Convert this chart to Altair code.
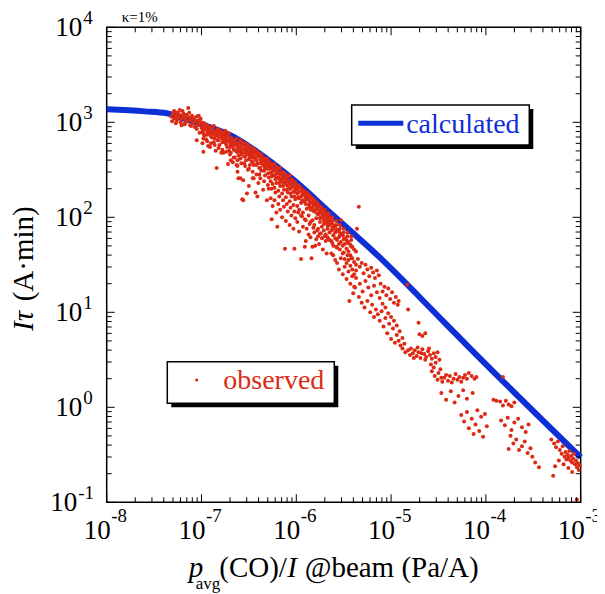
import altair as alt
import pandas as pd

FONT = "Liberation Serif"
W, H = 474, 475
RED = "#dc2a14"
BLUE = "#0d2fd6"

# axis decades (exponents) and minor multipliers
X_EXP = [-8, -7, -6, -5, -4, -3]
Y_EXP = [-1, 0, 1, 2, 3, 4]
Y_EXP_POS = [0, 1, 2, 3, 4]
Y_EXP_NEG = [-1]
MINOR_MULT = [2, 3, 4, 5, 6, 7, 8, 9]

# calculated curve (log10 x, log10 y)
CURVE_LX = [-8.0, -7.6, -7.367, -7.226, -7.0, -6.7, -6.4, -6.0, -5.645, -5.117, -4.449, -4.097, -3.0]
CURVE_LY = [3.137, 3.115, 3.095, 3.053, 2.98, 2.866, 2.68, 2.37, 2.05, 1.575, 0.905, 0.55, -0.526]

# observed points as (log10 x, log10 y)
OBS_A = [(-7.32, 3.06), (-7.30, 3.09), (-7.29, 3.04), (-7.28, 3.11), (-7.27, 3.07), (-7.26, 3.02), (-7.25, 3.10),
         (-7.24, 3.05), (-7.23, 3.08), (-7.22, 3.00), (-7.21, 3.04), (-7.20, 3.12), (-7.19, 3.06), (-7.18, 2.98),
         (-7.17, 3.03), (-7.16, 3.08), (-7.15, 3.01), (-7.14, 3.15), (-7.13, 3.05), (-7.12, 2.97), (-7.11, 3.02),
         (-7.10, 3.07), (-7.09, 2.99), (-7.08, 3.04), (-7.07, 2.95), (-7.06, 3.01), (-7.05, 2.81), (-7.05, 3.06),
         (-7.04, 2.97), (-7.03, 3.02), (-7.02, 2.89), (-7.02, 2.99), (-7.01, 3.04), (-7.00, 2.94), (-7.00, 3.00),
         (-7.31, 3.01), (-7.29, 3.12), (-7.27, 2.99), (-7.25, 3.05), (-7.23, 3.13), (-7.21, 2.97), (-7.19, 3.09),
         (-7.17, 2.99), (-7.15, 3.06), (-7.13, 3.10), (-7.11, 2.96), (-7.09, 3.05), (-7.07, 3.00), (-7.05, 2.93),
         (-7.03, 3.07)]
OBS_B = [(-6.99, 2.97), (-6.99, 2.90), (-6.99, 2.78), (-6.97, 2.99), (-6.97, 2.86), (-6.97, 2.93),
         (-6.95, 2.94), (-6.95, 2.82), (-6.95, 2.97), (-6.93, 2.91), (-6.93, 2.96), (-6.93, 2.75),
         (-6.91, 2.74), (-6.91, 2.88), (-6.91, 2.95), (-6.89, 2.93), (-6.89, 2.84), (-6.89, 2.90),
         (-6.87, 2.96), (-6.87, 2.79), (-6.87, 2.88), (-6.85, 2.91), (-6.85, 2.86), (-6.85, 2.70),
         (-6.83, 2.93), (-6.83, 2.81), (-6.83, 2.89), (-6.81, 2.87), (-6.81, 2.92), (-6.81, 2.76),
         (-6.79, 2.90), (-6.79, 2.84), (-6.79, 2.68), (-6.77, 2.68), (-6.77, 2.88), (-6.77, 2.82),
         (-6.75, 2.91), (-6.75, 2.79), (-6.75, 2.86), (-6.73, 2.85), (-6.73, 2.74), (-6.73, 2.89),
         (-6.71, 2.88), (-6.71, 2.80), (-6.71, 2.70), (-6.98, 2.69), (-6.84, 2.52), (-6.72, 2.56)]
OBS_C = [(-6.69, 2.84), (-6.69, 2.77), (-6.69, 2.68), (-6.69, 2.60), (-6.67, 2.82), (-6.67, 2.74), (-6.67, 2.58),
         (-6.67, 2.79), (-6.65, 2.80), (-6.65, 2.71), (-6.65, 2.63), (-6.65, 2.76), (-6.63, 2.83), (-6.63, 2.69),
         (-6.63, 2.77), (-6.63, 2.55), (-6.61, 2.78), (-6.61, 2.72), (-6.61, 2.41), (-6.61, 2.65), (-6.59, 2.81),
         (-6.59, 2.74), (-6.59, 2.62), (-6.59, 2.69), (-6.57, 2.76), (-6.57, 2.68), (-6.57, 2.19), (-6.57, 2.79),
         (-6.55, 2.78), (-6.55, 2.64), (-6.55, 2.72), (-6.55, 2.57), (-6.53, 2.74), (-6.53, 2.69), (-6.53, 2.60),
         (-6.53, 2.77), (-6.51, 2.72), (-6.51, 2.50), (-6.51, 2.66), (-6.51, 2.76), (-6.49, 2.74), (-6.49, 2.63),
         (-6.49, 2.69), (-6.49, 2.55), (-6.47, 2.70), (-6.47, 2.59), (-6.47, 2.66), (-6.47, 2.73), (-6.45, 2.72),
         (-6.45, 2.41), (-6.45, 2.64), (-6.45, 2.55), (-6.43, 2.68), (-6.43, 2.26), (-6.43, 2.61), (-6.43, 2.70),
         (-6.41, 2.66), (-6.41, 2.57), (-6.41, 2.22), (-6.41, 2.69), (-6.39, 2.64), (-6.39, 2.52), (-6.39, 2.67),
         (-6.39, 2.45), (-6.37, 2.66), (-6.37, 2.58), (-6.37, 2.49), (-6.37, 2.62), (-6.35, 2.63), (-6.35, 2.29),
         (-6.35, 2.55), (-6.35, 2.60), (-6.33, 2.61), (-6.33, 2.51), (-6.33, 2.44), (-6.33, 2.57), (-6.31, 2.58),
         (-6.31, 2.18), (-6.31, 2.53), (-6.31, 2.62), (-6.59, 2.41), (-6.52, 2.25), (-6.56, 2.39), (-6.56, 2.18),
         (-6.62, 2.54), (-6.46, 2.41), (-6.62, 2.48), (-6.50, 2.33), (-6.40, 2.36)]
OBS_D = [(-6.29, 2.59), (-6.29, 2.51), (-6.29, 2.42), (-6.29, 2.30), (-6.29, 2.55),
         (-6.27, 2.57), (-6.27, 2.47), (-6.27, 2.38), (-6.27, 2.20), (-6.27, 2.53),
         (-6.25, 2.55), (-6.25, 2.49), (-6.25, 2.35), (-6.25, 2.12), (-6.25, 2.44),
         (-6.23, 2.56), (-6.23, 2.44), (-6.23, 2.31), (-6.23, 2.18), (-6.23, 2.50),
         (-6.21, 2.53), (-6.21, 2.46), (-6.21, 2.36), (-6.21, 2.05), (-6.21, 2.41),
         (-6.19, 2.51), (-6.19, 2.42), (-6.19, 2.28), (-6.19, 2.14), (-6.19, 2.47),
         (-6.17, 2.52), (-6.17, 2.39), (-6.17, 2.33), (-6.17, 2.08), (-6.17, 2.45),
         (-6.15, 2.48), (-6.15, 2.40), (-6.15, 2.25), (-6.15, 2.00), (-6.15, 2.44),
         (-6.13, 2.47), (-6.13, 2.36), (-6.13, 2.29), (-6.13, 2.11), (-6.13, 2.42),
         (-6.11, 2.45), (-6.11, 2.37), (-6.11, 2.21), (-6.11, 1.96), (-6.11, 2.40),
         (-6.09, 2.43), (-6.09, 2.33), (-6.09, 2.26), (-6.09, 2.06), (-6.09, 2.39),
         (-6.07, 2.44), (-6.07, 2.30), (-6.07, 2.17), (-6.07, 1.92), (-6.07, 2.36),
         (-6.05, 2.40), (-6.05, 2.32), (-6.05, 2.22), (-6.05, 2.02), (-6.05, 2.35),
         (-6.03, 2.38), (-6.03, 2.27), (-6.03, 2.13), (-6.03, 1.88), (-6.03, 2.33),
         (-6.01, 2.37), (-6.01, 2.29), (-6.01, 2.19), (-6.01, 1.99), (-6.01, 2.31),
         (-6.26, 1.98), (-6.20, 1.90), (-6.12, 1.67), (-6.02, 1.67)]
OBS_E = [(-5.99, 2.34), (-5.99, 2.25), (-5.99, 2.12), (-5.99, 1.95), (-5.99, 2.30),
         (-5.97, 2.33), (-5.97, 2.20), (-5.97, 2.08), (-5.97, 1.85), (-5.97, 2.27),
         (-5.95, 2.31), (-5.95, 2.22), (-5.95, 2.15), (-5.95, 1.56), (-5.95, 2.02),
         (-5.93, 2.29), (-5.93, 2.18), (-5.93, 2.05), (-5.93, 1.90), (-5.93, 2.25),
         (-5.91, 2.27), (-5.91, 2.16), (-5.91, 1.98), (-5.91, 1.69), (-5.91, 2.23),
         (-5.89, 2.26), (-5.89, 2.19), (-5.89, 2.09), (-5.89, 1.88), (-5.89, 2.22),
         (-5.87, 2.24), (-5.87, 2.13), (-5.87, 2.02), (-5.87, 1.82), (-5.87, 2.19),
         (-5.85, 2.22), (-5.85, 2.15), (-5.85, 1.95), (-5.85, 1.79), (-5.85, 2.08),
         (-5.83, 2.20), (-5.83, 2.10), (-5.83, 1.69), (-5.83, 1.97), (-5.83, 2.16),
         (-5.81, 2.18), (-5.81, 2.06), (-5.81, 1.92), (-5.81, 1.84), (-5.81, 2.14),
         (-5.79, 2.16), (-5.79, 2.09), (-5.79, 1.99), (-5.79, 1.77), (-5.79, 2.12),
         (-5.77, 2.14), (-5.77, 2.03), (-5.77, 1.88), (-5.77, 2.08), (-5.77, 1.80),
         (-5.75, 2.11), (-5.75, 2.05), (-5.75, 1.95), (-5.75, 1.83), (-5.75, 1.99),
         (-5.73, 2.09), (-5.73, 2.00), (-5.73, 1.90), (-5.73, 1.78), (-5.73, 2.04),
         (-5.71, 2.07), (-5.71, 1.97), (-5.71, 1.86), (-5.71, 2.02), (-5.71, 1.93),
         (-5.69, 2.05), (-5.69, 1.94), (-5.69, 1.82), (-5.69, 1.99), (-5.69, 1.75),
         (-5.67, 2.02), (-5.67, 1.96), (-5.67, 1.88), (-5.67, 1.79), (-5.67, 1.91),
         (-5.65, 2.00), (-5.65, 1.92), (-5.65, 1.84), (-5.65, 1.76), (-5.65, 1.97),
         (-5.84, 1.57), (-5.61, 1.60), (-5.90, 1.75), (-5.80, 1.70), (-5.72, 1.66), (-5.68, 1.62), (-5.76, 1.72)]
OBS_F = [(-5.63, 1.94), (-5.63, 1.86), (-5.63, 1.75), (-5.63, 1.62), (-5.61, 1.92), (-5.61, 1.81), (-5.61, 1.70),
         (-5.61, 1.88), (-5.59, 1.90), (-5.59, 1.78), (-5.59, 1.84), (-5.59, 1.55), (-5.57, 1.87), (-5.57, 1.76),
         (-5.57, 1.68), (-5.57, 1.52), (-5.55, 1.85), (-5.55, 1.79), (-5.55, 1.72), (-5.55, 1.45), (-5.53, 1.83),
         (-5.53, 1.97), (-5.53, 1.74), (-5.53, 1.57), (-5.51, 1.81), (-5.51, 1.70), (-5.51, 1.62), (-5.51, 1.40),
         (-5.49, 1.78), (-5.49, 1.72), (-5.49, 1.48), (-5.49, 1.56), (-5.47, 1.76), (-5.47, 1.67), (-5.47, 1.52),
         (-5.47, 1.35), (-5.45, 1.74), (-5.45, 1.64), (-5.45, 1.43), (-5.45, 1.55), (-5.43, 1.71), (-5.43, 1.60),
         (-5.43, 1.49), (-5.43, 1.30), (-5.41, 1.69), (-5.41, 1.57), (-5.41, 1.45), (-5.41, 1.38), (-5.39, 1.66),
         (-5.39, 1.53), (-5.39, 1.40), (-5.39, 1.27), (-5.37, 1.64), (-5.37, 1.50), (-5.37, 1.36), (-5.37, 1.44),
         (-5.34, 2.11), (-5.36, 1.88)]
OBS_G = [(-5.35, 1.56), (-5.33, 1.48), (-5.31, 1.52), (-5.29, 1.41), (-5.27, 1.50), (-5.25, 1.45), (-5.23, 1.38),
         (-5.21, 1.47), (-5.19, 1.42), (-5.17, 1.36), (-5.15, 1.44), (-5.13, 1.39),
         (-5.34, 1.16), (-5.31, 1.10), (-5.28, 1.05), (-5.25, 1.12), (-5.22, 1.00), (-5.20, 1.08), (-5.18, 0.95),
         (-5.16, 1.03), (-5.14, 0.98), (-5.12, 0.91), (-5.10, 1.01), (-5.08, 0.85), (-5.06, 0.94), (-5.04, 0.78),
         (-5.02, 0.88), (-5.00, 0.72), (-4.98, 0.83), (-4.96, 0.68), (-4.94, 0.76), (-4.92, 0.70), (-4.90, 0.65),
         (-4.88, 0.73), (-4.86, 0.67),
         (-5.11, 1.30), (-5.09, 1.22), (-5.07, 1.27), (-5.05, 1.18), (-5.03, 1.25), (-5.01, 1.14), (-4.99, 1.21),
         (-4.97, 1.10), (-4.95, 1.16), (-4.93, 1.08), (-4.92, 1.12),
         (-4.83, 1.29), (-4.82, 1.03), (-4.71, 0.89), (-5.40, 1.20), (-5.38, 1.26), (-5.44, 1.12),
         (-5.33, 1.30), (-5.30, 1.22), (-5.27, 1.33), (-5.24, 1.26), (-5.21, 1.18), (-5.18, 1.28), (-5.15, 1.21),
         (-5.12, 1.15), (-5.09, 1.09), (-5.06, 1.05), (-5.03, 0.99), (-5.00, 0.95), (-4.97, 0.91), (-4.94, 0.86),
         (-4.91, 0.80), (-4.88, 0.62), (-4.85, 0.58), (-4.82, 0.60), (-4.80, 0.55)]
OBS_H = [(-4.79, 0.62), (-4.77, 0.57), (-4.75, 0.60), (-4.73, 0.54), (-4.71, 0.58), (-4.69, 0.52), (-4.67, 0.61),
         (-4.65, 0.56), (-4.63, 0.53), (-4.61, 0.59), (-4.59, 0.55), (-4.57, 0.51), (-4.55, 0.57), (-4.53, 0.53),
         (-4.51, 0.58), (-4.49, 0.50), (-4.76, 0.52), (-4.72, 0.63), (-4.68, 0.57), (-4.64, 0.50), (-4.60, 0.62),
         (-4.70, 0.77), (-4.67, 0.75), (-4.64, 0.78)]
OBS_I = [(-4.58, 0.45), (-4.57, 0.38), (-4.55, 0.42), (-4.54, 0.33), (-4.53, 0.47), (-4.51, 0.29), (-4.50, 0.36),
         (-4.48, 0.40), (-4.47, 0.31), (-4.46, 0.27),
         (-4.44, 0.31), (-4.42, 0.34), (-4.40, 0.28), (-4.38, 0.33), (-4.36, 0.26), (-4.34, 0.30), (-4.32, 0.35),
         (-4.30, 0.29), (-4.28, 0.32), (-4.26, 0.27), (-4.24, 0.31), (-4.22, 0.34), (-4.20, 0.30), (-4.18, 0.36),
         (-4.15, 0.33), (-4.12, 0.30), (-4.10, 0.32),
         (-4.47, 0.15), (-4.42, 0.08), (-4.37, 0.17), (-4.33, 0.05), (-4.29, 0.12), (-4.24, 0.18), (-4.20, 0.09),
         (-4.14, 0.15),
         (-4.26, -0.08), (-4.23, -0.15), (-4.20, -0.05), (-4.18, -0.22), (-4.15, -0.12), (-4.13, -0.28),
         (-4.11, -0.18), (-4.09, -0.03), (-4.07, -0.25), (-4.05, -0.10), (-4.03, -0.31), (-4.01, -0.07),
         (-3.99, -0.20),
         (-3.92, 0.08), (-3.89, 0.07), (-3.85, 0.06), (-3.82, 0.02), (-3.79, 0.07), (-3.76, 0.03), (-3.73, 0.01),
         (-3.70, 0.05),
         (-3.84, -0.14), (-3.80, -0.19), (-3.77, -0.11), (-3.73, -0.24), (-3.70, -0.16), (-3.66, -0.12),
         (-3.62, -0.21), (-3.58, -0.26), (-3.55, -0.18),
         (-3.74, -0.30), (-3.71, -0.38), (-3.68, -0.34), (-3.65, -0.45), (-3.62, -0.41), (-3.59, -0.36),
         (-3.56, -0.48), (-3.53, -0.43), (-3.51, -0.52),
         (-3.82, 0.32), (-3.76, -0.44), (-3.48, -0.58), (-3.44, -0.63), (-3.29, -0.72), (-3.04, -0.97),
         (-3.31, -0.34), (-3.28, -0.38), (-3.26, -0.42), (-3.24, -0.36), (-3.22, -0.45), (-3.20, -0.49),
         (-3.19, -0.41), (-3.17, -0.52), (-3.16, -0.47), (-3.15, -0.55), (-3.14, -0.50), (-3.13, -0.53),
         (-3.12, -0.46), (-3.11, -0.56), (-3.10, -0.51), (-3.09, -0.58), (-3.08, -0.54), (-3.07, -0.49),
         (-3.06, -0.60), (-3.05, -0.56), (-3.04, -0.63), (-3.03, -0.59), (-3.02, -0.66), (-3.01, -0.61),
         (-3.18, -0.60), (-3.13, -0.64), (-3.09, -0.68), (-3.23, -0.56), (-3.27, -0.62)]
# the dense part of the band just under the curve
OBS_J = [(-6.98, 2.95), (-6.98, 2.88), (-6.98, 2.83), (-6.98, 2.92), (-6.94, 2.93), (-6.94, 2.87), (-6.94, 2.80),
         (-6.94, 2.90), (-6.90, 2.91), (-6.90, 2.85), (-6.90, 2.78), (-6.90, 2.88), (-6.86, 2.90), (-6.86, 2.83),
         (-6.86, 2.76), (-6.86, 2.87), (-6.82, 2.88), (-6.82, 2.81), (-6.82, 2.73), (-6.82, 2.85), (-6.78, 2.86),
         (-6.78, 2.79), (-6.78, 2.71), (-6.78, 2.83), (-6.74, 2.84), (-6.74, 2.77), (-6.74, 2.69), (-6.74, 2.81),
         (-6.70, 2.82), (-6.70, 2.74), (-6.70, 2.66), (-6.70, 2.79), (-6.66, 2.79), (-6.66, 2.71), (-6.66, 2.63),
         (-6.66, 2.76), (-6.62, 2.77), (-6.62, 2.69), (-6.62, 2.60), (-6.62, 2.74), (-6.58, 2.75), (-6.58, 2.66),
         (-6.58, 2.57), (-6.58, 2.71), (-6.54, 2.72), (-6.54, 2.64), (-6.54, 2.54), (-6.54, 2.68), (-6.50, 2.70),
         (-6.50, 2.61), (-6.50, 2.51), (-6.50, 2.66), (-6.46, 2.67), (-6.46, 2.58), (-6.46, 2.48), (-6.46, 2.63),
         (-6.42, 2.64), (-6.42, 2.55), (-6.42, 2.45), (-6.42, 2.60), (-6.38, 2.61), (-6.38, 2.52), (-6.38, 2.41),
         (-6.38, 2.57), (-6.34, 2.58), (-6.34, 2.49), (-6.34, 2.38), (-6.34, 2.54), (-6.30, 2.55), (-6.30, 2.46),
         (-6.30, 2.34), (-6.30, 2.51), (-6.26, 2.52), (-6.26, 2.43), (-6.26, 2.30), (-6.26, 2.47), (-6.22, 2.49),
         (-6.22, 2.40), (-6.22, 2.26), (-6.22, 2.44), (-6.18, 2.46), (-6.18, 2.36), (-6.18, 2.22), (-6.18, 2.41),
         (-6.14, 2.42), (-6.14, 2.33), (-6.14, 2.18), (-6.14, 2.37), (-6.10, 2.39), (-6.10, 2.29), (-6.10, 2.14),
         (-6.10, 2.34), (-6.06, 2.35), (-6.06, 2.25), (-6.06, 2.10), (-6.06, 2.30), (-6.02, 2.32), (-6.02, 2.22),
         (-6.02, 2.06), (-6.02, 2.27),
         (-5.98, 2.31), (-5.98, 2.21), (-5.98, 2.05), (-5.98, 2.26), (-5.94, 2.28), (-5.94, 2.17), (-5.94, 2.01),
         (-5.94, 2.23), (-5.90, 2.25), (-5.90, 2.14), (-5.90, 1.97), (-5.90, 2.20), (-5.86, 2.22), (-5.86, 2.11),
         (-5.86, 1.93), (-5.86, 2.17), (-5.82, 2.19), (-5.82, 2.07), (-5.82, 1.89), (-5.82, 2.13), (-5.78, 2.15),
         (-5.78, 2.04), (-5.78, 1.86), (-5.78, 2.10), (-5.74, 2.11), (-5.74, 2.00), (-5.74, 1.83), (-5.74, 2.06),
         (-5.70, 2.08), (-5.70, 1.96), (-5.70, 1.80), (-5.70, 2.03), (-5.66, 2.04), (-5.66, 1.93), (-5.66, 1.77),
         (-5.66, 1.99), (-5.62, 2.00), (-5.62, 1.89), (-5.62, 1.73), (-5.62, 1.96), (-5.58, 1.96), (-5.58, 1.85),
         (-5.58, 1.69), (-5.58, 1.92), (-5.54, 1.92), (-5.54, 1.81), (-5.54, 1.66), (-5.54, 1.88), (-5.50, 1.88),
         (-5.50, 1.77), (-5.50, 1.63), (-5.50, 1.84), (-5.46, 1.84), (-5.46, 1.73), (-5.46, 1.60), (-5.46, 1.80),
         (-5.42, 1.80), (-5.42, 1.69), (-5.42, 1.57), (-5.42, 1.76)]

obs = OBS_A + OBS_B + OBS_C + OBS_D + OBS_E + OBS_F + OBS_G + OBS_H + OBS_I + OBS_J
df_obs = pd.DataFrame({"x": [10.0 ** p[0] for p in obs], "y": [10.0 ** p[1] for p in obs]})
df_curve = pd.DataFrame({"x": [10.0 ** v for v in CURVE_LX], "y": [10.0 ** v for v in CURVE_LY]})

xs = alt.Scale(type="log", domain=[1e-8, 1e-3], nice=False)
ys = alt.Scale(type="log", domain=[1e-1, 1e4], nice=False)

x_dec = [10.0 ** e for e in X_EXP]
y_dec = [10.0 ** e for e in Y_EXP]
x_min = [m * 10.0 ** e for e in X_EXP[:-1] for m in MINOR_MULT]
y_min = [m * 10.0 ** e for e in Y_EXP[:-1] for m in MINOR_MULT]

grid_x = alt.Axis(values=x_dec, grid=True, gridDash=[2, 2], gridColor="#7a7a7a", gridWidth=0.8,
                  labels=False, ticks=False, domain=False, title=None)
grid_y = alt.Axis(values=y_dec, grid=True, gridDash=[2, 2], gridColor="#7a7a7a", gridWidth=0.8,
                  labels=False, ticks=False, domain=False, title=None)

line = alt.Chart(df_curve).mark_line(color=BLUE, strokeWidth=6, interpolate="monotone").encode(
    x=alt.X("x:Q", scale=xs, axis=grid_x), y=alt.Y("y:Q", scale=ys, axis=grid_y))
pts = alt.Chart(df_obs).mark_circle(color=RED, size=16, opacity=1).encode(
    x=alt.X("x:Q", scale=xs, axis=None), y=alt.Y("y:Q", scale=ys, axis=None))


def xticks(vals, ln):
    d = pd.DataFrame({"v": vals})
    b = alt.Chart(d).mark_rule(color="black", strokeWidth=1).encode(
        x=alt.X("v:Q", scale=xs, axis=None), y=alt.value(H), y2=alt.value(H - ln))
    t = alt.Chart(d).mark_rule(color="black", strokeWidth=1).encode(
        x=alt.X("v:Q", scale=xs, axis=None), y=alt.value(0), y2=alt.value(ln))
    return [b, t]


def yticks(vals, ln):
    d = pd.DataFrame({"v": vals})
    l = alt.Chart(d).mark_rule(color="black", strokeWidth=1).encode(
        y=alt.Y("v:Q", scale=ys, axis=None), x=alt.value(0), x2=alt.value(ln))
    r = alt.Chart(d).mark_rule(color="black", strokeWidth=1).encode(
        y=alt.Y("v:Q", scale=ys, axis=None), x=alt.value(W), x2=alt.value(W - ln))
    return [l, r]


ticks = xticks(x_dec, 8) + xticks(x_min, 5) + yticks(y_dec, 8) + yticks(y_min, 5)

# tick labels: "10" with superscript exponent
df_xl = pd.DataFrame({"v": x_dec, "e": [str(e) for e in X_EXP]})
xl_base = alt.Chart(df_xl).mark_text(font=FONT, fontSize=27, align="right", baseline="alphabetic", dx=4,
                                     color="black").encode(
    x=alt.X("v:Q", scale=xs, axis=None), y=alt.value(H + 37), text=alt.value("10"))
xl_exp = alt.Chart(df_xl).mark_text(font=FONT, fontSize=19, align="left", baseline="alphabetic", dx=4.5,
                                    color="black").encode(
    x=alt.X("v:Q", scale=xs, axis=None), y=alt.value(H + 19.5), text="e:N")


def ylabels(exps, xb):
    d = pd.DataFrame({"v": [10.0 ** e for e in exps], "e": [str(e) for e in exps]})
    b = alt.Chart(d).mark_text(font=FONT, fontSize=27, align="right", baseline="alphabetic", dy=8.5,
                               color="black").encode(
        y=alt.Y("v:Q", scale=ys, axis=None), x=alt.value(xb), text=alt.value("10"))
    e = alt.Chart(d).mark_text(font=FONT, fontSize=19, align="left", baseline="alphabetic", dy=-3.5,
                               color="black").encode(
        y=alt.Y("v:Q", scale=ys, axis=None), x=alt.value(xb + 1), text="e:N")
    return [b, e]


ylab = ylabels(Y_EXP_POS, -24.5) + ylabels(Y_EXP_NEG, -29.5)

dummy = pd.DataFrame({"d": [0]})


def txt(s, x, y, size, color="black", style="normal", align="left", angle=0):
    return alt.Chart(dummy).mark_text(text=s, font=FONT, fontSize=size, fontStyle=style, color=color,
                                      align=align, baseline="alphabetic", angle=angle).encode(
        x=alt.value(x), y=alt.value(y))


def rect(x1, y1, x2, y2, fill, stroke=None):
    if stroke:
        m = alt.Chart(dummy).mark_rect(fill=fill, stroke=stroke, strokeWidth=1.5)
    else:
        m = alt.Chart(dummy).mark_rect(fill=fill)
    return m.encode(x=alt.value(x1), x2=alt.value(x2), y=alt.value(y1), y2=alt.value(y2))


legend = [
    rect(249, 81.7, 426.6, 121.7, "black"),
    rect(245, 77.7, 422.6, 117.7, "white", "black"),
    alt.Chart(dummy).mark_rule(color=BLUE, strokeWidth=5).encode(
        x=alt.value(251.6), x2=alt.value(296.6), y=alt.value(96)),
    txt("calculated", 299.5, 106, 28, BLUE),
    rect(64.6, 338.4, 231.6, 380, "black"),
    rect(60.6, 334.4, 227.6, 376, "white", "black"),
    alt.Chart(dummy).mark_circle(color=RED, size=10, opacity=1).encode(x=alt.value(90), y=alt.value(352.7)),
    txt("observed", 116.6, 362, 28, RED),
]

titles = [
    txt("\u03ba=1%", 15, -5.6, 15),
    txt("p", 82, 549.4, 29, style="italic"),
    txt("avg", 89, 562, 17),
    txt("(CO)/", 112.6, 549.4, 29),
    txt("I", 180.5, 549.4, 29, style="italic"),
    txt("@beam (Pa/A)", 198, 549.4, 29),
    txt("I\u03c4", -73.7, 303.7, 29, style="italic", angle=270),
    txt("(A\u00b7min)", -73.7, 274, 29, angle=270),
]

chart = alt.layer(line, pts, *ticks, xl_base, xl_exp, *ylab, *legend, *titles).properties(
    width=W, height=H,
    autosize=alt.AutoSizeParams(type="none"),
    padding={"left": 98.7, "top": 19.3, "right": 16, "bottom": 91.7},
    background="white",
).configure_view(stroke="black", strokeWidth=1.5)

chart.save("out.html", embed_options={"renderer": "svg", "actions": False})
